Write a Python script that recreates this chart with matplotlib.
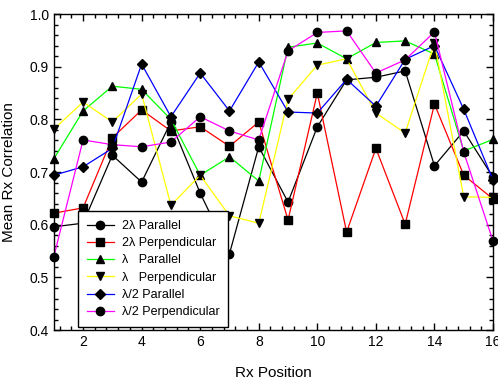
import numpy as np
import matplotlib.pyplot as plt
from matplotlib.ticker import MultipleLocator

plt.rcParams['font.family'] = ['Liberation Sans', 'DejaVu Sans']

pos = np.arange(1, 17)

par_2l = [0.596, 0.603, 0.732, 0.681, 0.795, 0.660, 0.545, 0.748,
          0.643, 0.786, 0.875, 0.880, 0.892, 0.712, 0.778, 0.690]
perp_2l = [0.622, 0.632, 0.765, 0.818, 0.778, 0.786, 0.749, 0.795,
           0.609, 0.850, 0.586, 0.745, 0.601, 0.829, 0.694, 0.649]
par_l = [0.725, 0.816, 0.863, 0.857, 0.800, 0.694, 0.729, 0.683,
         0.937, 0.945, 0.915, 0.946, 0.949, 0.924, 0.740, 0.762]
perp_l = [0.781, 0.833, 0.795, 0.848, 0.637, 0.694, 0.617, 0.603,
          0.838, 0.903, 0.915, 0.812, 0.774, 0.945, 0.653, 0.652]
par_h = [0.694, 0.710, 0.745, 0.905, 0.805, 0.888, 0.816, 0.909,
         0.814, 0.812, 0.876, 0.825, 0.914, 0.940, 0.819, 0.685]
perp_h = [0.539, 0.761, 0.752, 0.748, 0.757, 0.805, 0.778, 0.761,
          0.930, 0.965, 0.968, 0.888, 0.913, 0.966, 0.738, 0.569]

series = [
    (par_2l, 'black', 'o', '2λ Parallel'),
    (perp_2l, 'red', 's', '2λ Perpendicular'),
    (par_l, '#00ff00', '^', 'λ   Parallel'),
    (perp_l, '#ffff00', 'v', 'λ   Perpendicular'),
    (par_h, 'blue', 'D', 'λ/2 Parallel'),
    (perp_h, 'magenta', 'o', 'λ/2 Perpendicular'),
]

fig = plt.figure(figsize=(4.98, 3.79), dpi=100)
ax = fig.add_axes([0.108, 0.129, 0.882, 0.834])

for vals, col, mk, lab in series:
    ms = 5 if mk == 'D' else 6
    ax.plot(pos, vals, color=col, lw=0.9, marker=mk, ms=ms,
            mfc='black', mec='black', label=lab, clip_on=False)

ax.set_xlim(1, 16)
ax.set_ylim(0.4, 1.0)
ax.xaxis.set_major_locator(MultipleLocator(2))
ax.xaxis.set_minor_locator(MultipleLocator(0.4))
ax.yaxis.set_major_locator(MultipleLocator(0.1))
ax.yaxis.set_minor_locator(MultipleLocator(0.02))
ax.yaxis.set_major_formatter(plt.FormatStrFormatter('%.1f'))
ax.tick_params(which='both', direction='in', top=True, right=True,
               labelsize=10, width=1)
ax.tick_params(which='major', length=5)
ax.tick_params(which='minor', length=3)
for s in ax.spines.values():
    s.set_linewidth(1)

ax.set_xlabel('Rx Position', fontsize=11, labelpad=12)
ax.set_ylabel('Mean Rx Correlation', fontsize=11, labelpad=10)

leg = ax.legend(loc='lower left', bbox_to_anchor=(0.055, 0.01),
                borderaxespad=0, fontsize=9, frameon=True, fancybox=False,
                edgecolor='black', framealpha=1, handlelength=2.2,
                handletextpad=0.6, borderpad=0.7, labelspacing=0.42)
leg.get_frame().set_linewidth(1)

fig.savefig('out.png', dpi=100)
